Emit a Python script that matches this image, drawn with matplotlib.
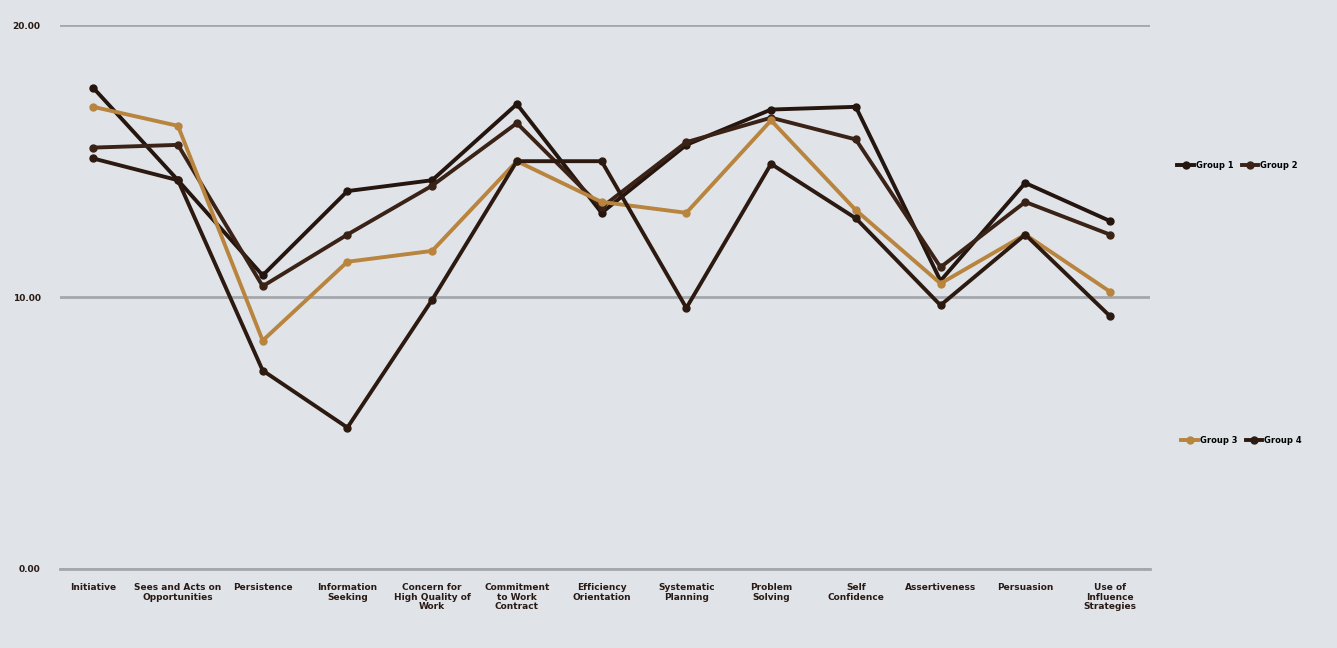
import numpy as np
from matplotlib import pyplot as plt

# competency categories (x axis)
categories = ["Initiative", "Sees and Acts on\nOpportunities", "Persistence",
              "Information\nSeeking", "Concern for\nHigh Quality of\nWork",
              "Commitment\nto Work\nContract", "Efficiency\nOrientation",
              "Systematic\nPlanning", "Problem\nSolving", "Self\nConfidence",
              "Assertiveness", "Persuasion", "Use of\nInfluence\nStrategies"]

# values
group1 = [17.7, 14.3, 10.8, 13.9, 14.3, 17.1, 13.1, 15.6, 16.9, 17.0, 10.6, 14.2, 12.8]
group2 = [15.5, 15.6, 10.4, 12.3, 14.1, 16.4, 13.3, 15.7, 16.6, 15.8, 11.1, 13.5, 12.3]
group3 = [17.0, 16.3, 8.4, 11.3, 11.7, 15.0, 13.5, 13.1, 16.5, 13.2, 10.5, 12.3, 10.2]
group4 = [15.1, 14.3, 7.3, 5.2, 9.9, 15.0, 15.0, 9.6, 14.9, 12.9, 9.7, 12.3, 9.3]

names = ["Group 1", "Group 2", "Group 3", "Group 4"]
colors = ["#24150e", "#3a2216", "#b8843e", "#2c1a10"]
yticks = [0, 10, 20]
yticklabels = ["0.00", "10.00", "20.00"]

bg = "#e0e4e9"
fig = plt.figure(figsize=(13.37, 6.48), dpi=100, facecolor=bg)
ax = fig.add_axes([0.045, 0.122, 0.815, 0.839], facecolor=bg)

x = np.arange(len(categories))
handles = []
for vals, c, n in zip([group1, group2, group3, group4], colors, names):
    h, = ax.plot(x, vals, color=c, lw=2.8, marker="o", ms=5, mfc=c, mec=c, label=n,
                 solid_joinstyle="miter")
    handles.append(h)

ax.set_xlim(-0.39, 12.47)
ax.set_ylim(0, 20)
ax.set_yticks(yticks)
ax.set_yticklabels(yticklabels, fontsize=6.5, fontweight="heavy", color="#2a1a14")
ax.set_xticks(x)
ax.set_xticklabels(categories, fontsize=6.5, fontweight="heavy", color="#2a1a14",
                   linespacing=1.1, va="top")
ax.tick_params(length=0, pad=10)
ax.tick_params(axis="y", pad=14)
ax.grid(axis="y", color="#a4a8ac", lw=2)
ax.set_axisbelow(True)
for s in ["top", "right", "left"]:
    ax.spines[s].set_visible(False)
ax.spines["bottom"].set_color("#a4a8ac")
ax.spines["bottom"].set_linewidth(2)

# legend split in two rows at the right, as in the photo
leg1 = fig.legend(handles=handles[:2], loc="center left", bbox_to_anchor=(0.875, 0.745),
                  ncol=2, frameon=False, prop={"size": 6, "weight": "heavy"},
                  handlelength=2.0, columnspacing=1.0, handletextpad=0.2)
leg2 = fig.legend(handles=handles[2:], loc="center left", bbox_to_anchor=(0.878, 0.32),
                  ncol=2, frameon=False, prop={"size": 6, "weight": "heavy"},
                  handlelength=2.0, columnspacing=1.0, handletextpad=0.2)

fig.savefig("out.png", dpi=100, facecolor=bg)
